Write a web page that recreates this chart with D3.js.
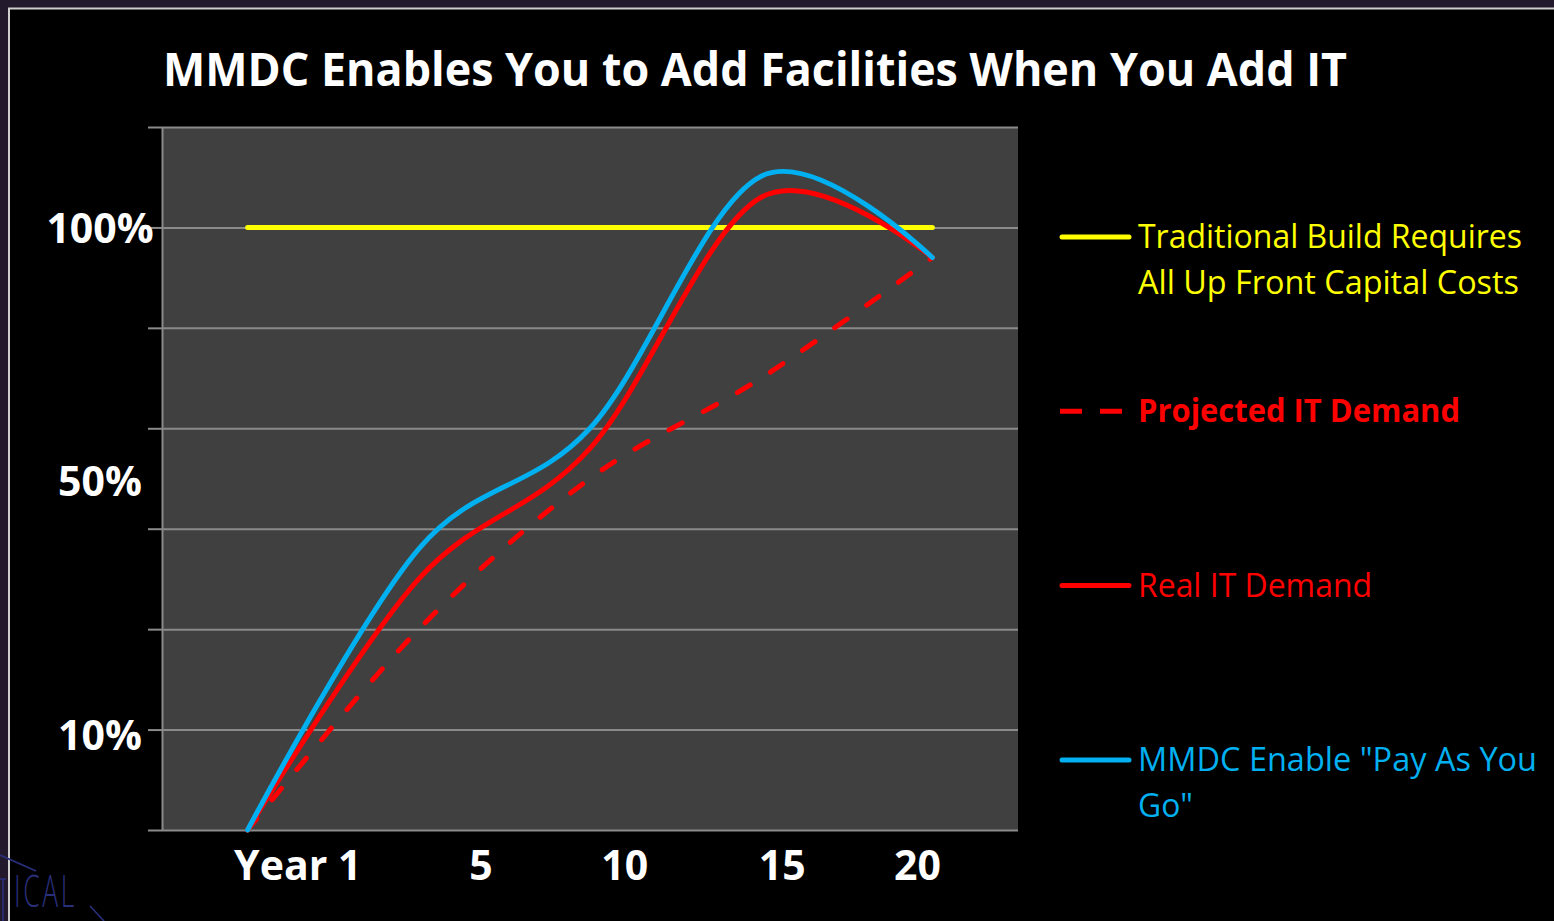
<!DOCTYPE html>
<html>
<head>
<meta charset="utf-8">
<script src="https://cdn.jsdelivr.net/npm/d3@7"></script>
<style>
  html, body { margin: 0; padding: 0; background: #221a2c; }
  svg { display: block; }
  text { font-family: "Open Sans", "Noto Sans", sans-serif; }
</style>
</head>
<body>
<script>
// chart values (gridline units: 20 per gridline, 0..140)
var categories = ["1", "5", "10", "15", "20"];
var traditional = [120, 120, 120, 120, 120];
var projected   = [0, 40, 70, 90, 114];
var realDemand  = [0, 50, 76, 126, 114];
var mmdc        = [0, 56, 80, 130.2, 114];

var yTickValues = [0, 20, 40, 60, 80, 100, 120, 140];
var yLabels   = ["100%", "50%", "10%"];
var yLabelAt  = [120, 69.5, 19];
var xLabels   = ["Year 1", "5", "10", "15", "20"];
var xLabelAt  = [0.29, 1.36, 2.2, 3.12, 3.91];

var titleText = "MMDC Enables You to Add Facilities When You Add IT";
var legendNames = [
  ["Traditional Build Requires", "All Up Front Capital Costs"],
  ["Projected IT Demand"],
  ["Real IT Demand"],
  ["MMDC Enable \"Pay As You", "Go\""]
];

var W = 1554, H = 921;
var plot = { left: 162, right: 1018, top: 127, bottom: 830 };

var svg = d3.select("body").append("svg")
  .attr("width", W)
  .attr("height", H);

// slide frame
svg.append("rect").attr("x", 0).attr("y", 0).attr("width", W).attr("height", H).attr("fill", "#221a2c");
svg.append("rect").attr("x", 9).attr("y", 8.5).attr("width", W).attr("height", H)
  .attr("fill", "#000").attr("stroke", "#cfcfcf").attr("stroke-width", 2);

// small logo remnant bottom-left
var logo = svg.append("g").attr("fill", "none").attr("stroke", "#2a2f7c").attr("stroke-width", 1.6);
logo.append("line").attr("x1", 0).attr("y1", 855).attr("x2", 36).attr("y2", 871);
logo.append("line").attr("x1", 90).attr("y1", 906).attr("x2", 104).attr("y2", 921);
logo.append("line").attr("x1", 0).attr("y1", 879).attr("x2", 6).attr("y2", 879);
logo.append("line").attr("x1", 3).attr("y1", 879).attr("x2", 3).attr("y2", 921);
svg.append("text")
  .attr("transform", "translate(14,907) scale(0.66,1.12)")
  .attr("fill", "#2a2f7c")
  .style("font-weight", 300)
  .style("font-size", "40px")
  .style("letter-spacing", "4px")
  .text("ICAL");

// scales
var x = d3.scaleBand().domain(categories).range([plot.left, plot.right]).paddingInner(0).paddingOuter(0);
var xc = function (c) { return x(c) + x.bandwidth() / 2; };
var xi = d3.scaleLinear().domain([0, categories.length - 1]).range([xc(categories[0]), xc(categories[categories.length - 1])]);
var y = d3.scaleLinear().domain([0, 140]).range([plot.bottom, plot.top]);

// plot area
svg.append("rect")
  .attr("x", plot.left).attr("y", plot.top)
  .attr("width", plot.right - plot.left).attr("height", plot.bottom - plot.top)
  .attr("fill", "#404040");

// gridlines
var grid = svg.append("g").attr("transform", "translate(" + plot.left + ",0)")
  .call(d3.axisLeft(y).tickValues(yTickValues).tickSize(-(plot.right - plot.left)).tickFormat(""));
grid.select(".domain").remove();
grid.selectAll(".tick line").attr("stroke", "#8a8a8a").attr("stroke-width", 2);

// tick marks + axis line
var yAxis = svg.append("g").attr("transform", "translate(" + plot.left + ",0)")
  .call(d3.axisLeft(y).tickValues(yTickValues).tickSize(14).tickSizeOuter(0).tickFormat(""));
yAxis.select(".domain").attr("stroke", "#8a8a8a").attr("stroke-width", 2);
yAxis.selectAll(".tick line").attr("stroke", "#8a8a8a").attr("stroke-width", 2);

// y labels (free text boxes)
var yLab = svg.append("g").attr("transform", "translate(100,0)")
  .call(d3.axisLeft(y).tickValues(yLabelAt).tickSize(0).tickFormat(function (d, i) { return yLabels[i]; }));
yLab.select(".domain").remove();
yLab.selectAll(".tick text")
  .attr("x", 0).attr("dy", "0.36em")
  .attr("text-anchor", "middle")
  .attr("fill", "#fff")
  .style("font-family", "'Open Sans', sans-serif")
  .style("font-size", "41px")
  .style("font-weight", 700);

// x labels
var xLab = svg.append("g").attr("transform", "translate(0," + plot.bottom + ")")
  .call(d3.axisBottom(xi).tickValues(xLabelAt).tickSize(0).tickFormat(function (d, i) { return xLabels[i]; }));
xLab.select(".domain").remove();
xLab.selectAll(".tick text")
  .attr("y", 50).attr("dy", 0)
  .attr("fill", "#fff")
  .style("font-family", "'Open Sans', sans-serif")
  .style("font-size", "41px")
  .style("font-weight", 700);

// series
var series = [
  { name: "traditional", values: traditional, color: "#ffff00", dash: null, curve: d3.curveLinear },
  { name: "projected", values: projected, color: "#ff0000", dash: "15,24", curve: d3.curveCardinal.tension(0) },
  { name: "real", values: realDemand, color: "#ff0000", dash: null, curve: d3.curveCardinal.tension(0) },
  { name: "mmdc", values: mmdc, color: "#00b0f0", dash: null, curve: d3.curveCardinal.tension(0) }
];

series.forEach(function (s) {
  var line = d3.line()
    .x(function (d, i) { return xc(categories[i]); })
    .y(function (d) { return y(d); })
    .curve(s.curve);
  svg.append("path")
    .datum(s.values)
    .attr("d", line)
    .attr("fill", "none")
    .attr("stroke", s.color)
    .attr("stroke-width", 5)
    .attr("stroke-linecap", "round")
    .attr("stroke-dasharray", s.dash);
});

// title
var title = svg.append("text")
  .attr("x", 163).attr("y", 86)
  .attr("fill", "#fff")
  .style("font-size", "46px")
  .style("font-weight", 700)
  .text(titleText);
title.attr("textLength", 1184).attr("lengthAdjust", "spacingAndGlyphs");

// legend
var legendWidths = [[384, 381], [322], [234], [399, 55]];
var legendWeight = [400, 700, 400, 400];
var legend = svg.append("g");
series.forEach(function (s, i) {
  var ly = 237 + i * 174.3;
  var g = legend.append("g").attr("transform", "translate(0," + ly + ")");
  if (s.dash) {
    g.append("line").attr("x1", 1060).attr("x2", 1122).attr("y1", 0).attr("y2", 0)
      .attr("stroke", s.color).attr("stroke-width", 5).attr("stroke-dasharray", "22,18");
  } else {
    g.append("line").attr("x1", 1062).attr("x2", 1129).attr("y1", 0).attr("y2", 0)
      .attr("stroke", s.color).attr("stroke-width", 5).attr("stroke-linecap", "round");
  }
  legendNames[i].forEach(function (t, j) {
    g.append("text")
      .attr("x", 1138).attr("y", 11 + j * 46)
      .attr("fill", s.color)
      .style("font-size", "32px")
      .style("font-weight", legendWeight[i])
      .attr("textLength", legendWidths[i][j])
      .attr("lengthAdjust", "spacingAndGlyphs")
      .text(t);
  });
});
</script>
</body>
</html>
